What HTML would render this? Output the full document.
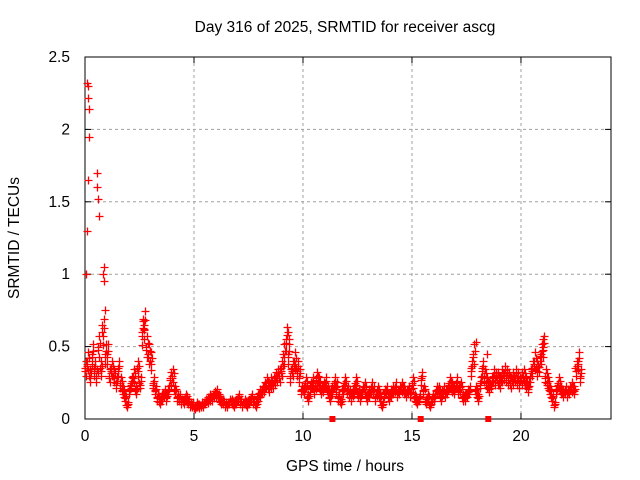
<!DOCTYPE html>
<html><head><meta charset="utf-8"><style>
body{margin:0;background:#fff;}
svg{display:block;font-family:"Liberation Sans",sans-serif;font-size:15.5px;}
</style></head><body>
<svg id="chart" width="640" height="480">
<text x="345" y="32" text-anchor="middle">Day 316 of 2025, SRMTID for receiver ascg</text>
<g id="grid"></g>
<g id="axes"></g>
<g id="marks"></g>
<text x="345" y="471" text-anchor="middle">GPS time / hours</text>
<text transform="translate(19,238) rotate(-90)" text-anchor="middle">SRMTID / TECUs</text>
</svg>
<script>
const xTicks=[0,5,10,15,20];
const yTicks=[0,0.5,1,1.5,2,2.5];
const yTickLabels=["0","0.5","1","1.5","2","2.5"];
const step=0.1;
const tid=[0.35,0.4,0.3,0.45,0.35,0.3,0.5,0.35,0.6,0.45,
0.45,0.3,0.35,0.3,0.25,0.35,0.25,0.2,0.15,0.1,
0.2,0.25,0.3,0.2,0.35,0.25,0.6,0.65,0.5,0.45,
0.4,0.25,0.2,0.15,0.12,0.15,0.18,0.15,0.2,0.28,
0.3,0.2,0.15,0.15,0.12,0.12,0.15,0.12,0.1,0.1,
0.08,0.1,0.09,0.1,0.1,0.12,0.13,0.15,0.15,0.17,
0.18,0.15,0.12,0.12,0.1,0.1,0.12,0.12,0.1,0.12,
0.15,0.12,0.1,0.12,0.1,0.12,0.15,0.12,0.1,0.15,
0.18,0.2,0.22,0.25,0.22,0.25,0.25,0.28,0.3,0.3,
0.35,0.45,0.55,0.45,0.3,0.35,0.4,0.35,0.3,0.2,
0.2,0.25,0.15,0.22,0.25,0.2,0.28,0.25,0.2,0.22,
0.25,0.2,0.15,0.2,0.25,0.22,0.15,0.12,0.2,0.25,
0.2,0.18,0.15,0.2,0.25,0.18,0.15,0.2,0.22,0.15,
0.18,0.22,0.2,0.15,0.2,0.15,0.1,0.18,0.2,0.15,
0.18,0.2,0.22,0.18,0.2,0.22,0.2,0.18,0.2,0.18,
0.25,0.15,0.12,0.15,0.28,0.2,0.12,0.15,0.1,0.15,
0.15,0.2,0.2,0.15,0.2,0.18,0.2,0.25,0.22,0.2,
0.25,0.2,0.22,0.15,0.15,0.18,0.2,0.35,0.45,0.2,
0.15,0.25,0.35,0.3,0.25,0.22,0.25,0.3,0.28,0.28,
0.25,0.3,0.32,0.3,0.28,0.25,0.28,0.3,0.28,0.25,
0.28,0.3,0.25,0.22,0.3,0.35,0.4,0.35,0.38,0.45,
0.5,0.3,0.25,0.2,0.15,0.1,0.2,0.25,0.2,0.18,
0.2,0.18,0.2,0.22,0.2,0.35,0.4,0.3];
const spikeHours=[0.1,0.12,0.15,0.18,0.2,0.12,0.08,0.05,0.55,0.57,0.6,0.62,0.85,0.82,0.88,0.9,0.8,2.65,2.7,9.3,9.35,17.95,18.45,21.0];
const spikeValues=[2.32,2.3,2.22,2.14,1.95,1.65,1.3,1.0,1.7,1.6,1.52,1.4,1.05,1.0,0.95,0.75,0.65,0.68,0.62,0.6,0.55,0.53,0.45,0.55];
const zeroHours=[11.35,15.4,18.5];
const X0=85,X1=611,Y0=419,Y1=57,XMAX=24.13,YMAX=2.5;
const xs=h=>X0+(X1-X0)*h/XMAX, ys=v=>Y0-(Y0-Y1)*v/YMAX;
const NS="http://www.w3.org/2000/svg";
function mk(tag,attrs,parent){const e=document.createElementNS(NS,tag);for(const k in attrs)e.setAttribute(k,attrs[k]);parent.appendChild(e);return e;}
const grid=document.getElementById('grid'),axes=document.getElementById('axes'),marks=document.getElementById('marks');
xTicks.forEach(t=>{const x=xs(t);
 if(t>0){const l=mk('line',{x1:x,x2:x,y1:Y1,y2:Y0,stroke:'#a0a0a0','stroke-dasharray':'3,3'},grid);
 
 }
 mk('line',{x1:x,x2:x,y1:Y0,y2:Y0-6,stroke:'#000'},axes);
 mk('line',{x1:x,x2:x,y1:Y1,y2:Y1+6,stroke:'#000'},axes);
 const tx=mk('text',{x:x,y:Y0+22,'text-anchor':'middle'},axes);tx.textContent=t;
 
 });
yTicks.forEach((t,i)=>{const y=ys(t);
 if(t>0&&t<YMAX){const l=mk('line',{x1:X0,x2:X1,y1:y,y2:y,stroke:'#a0a0a0','stroke-dasharray':'3,3'},grid);
 
 }
 mk('line',{x1:X0,x2:X0+6,y1:y,y2:y,stroke:'#000'},axes);
 mk('line',{x1:X1,x2:X1-6,y1:y,y2:y,stroke:'#000'},axes);
 const tx=mk('text',{x:X0-15,y:y+5,'text-anchor':'end'},axes);tx.textContent=yTickLabels[i];
 
 });
const fr=mk('rect',{x:X0,y:Y1,width:X1-X0,height:Y0-Y1,fill:'none',stroke:'#000'},axes);


let d='';
function plus(h,v){const x=Math.round(xs(h))+0.5,y=Math.round(ys(v))+0.5;d+=`M${x-4},${y}h8M${x},${y-4}v8`;}
tid.forEach((v,i)=>{const h=i*step;plus(h,v);plus(h+step/2,v*1.15);plus(h+step/4,v*0.85);plus(h+3*step/4,v*1.05);plus(h+step/8,v*0.95);});
spikeHours.forEach((h,i)=>plus(h,spikeValues[i]));
const p=mk('path',{d:d,stroke:'#f00','stroke-width':1.3,fill:'none'},marks);


zeroHours.forEach(h=>{const r=mk('rect',{x:xs(h)-3,y:Y0-3,width:6,height:6,fill:'#f00'},marks);
 
 });
</script>
</body></html>
